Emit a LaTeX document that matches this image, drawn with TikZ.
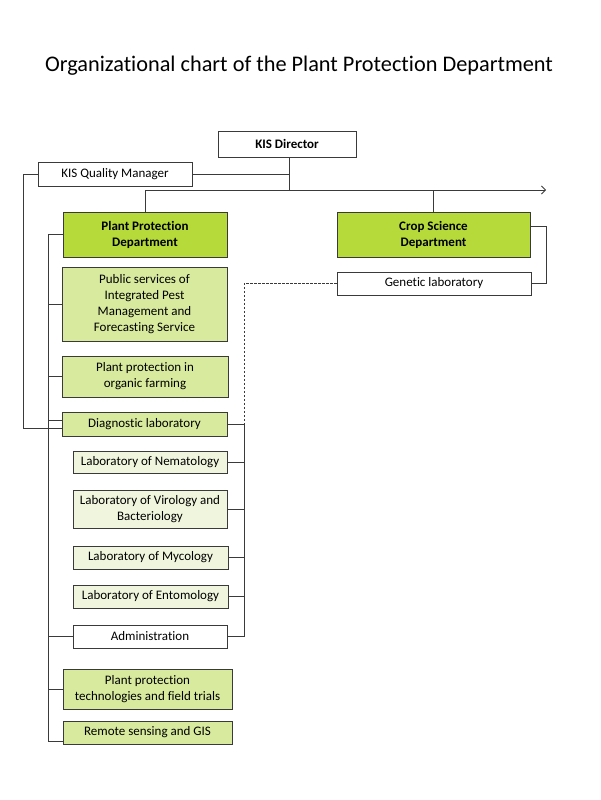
\documentclass[tikz,border=0pt]{standalone}
\usepackage{fontspec}
\setmainfont[Ligatures=NoCommon]{Carlito}
\usetikzlibrary{arrows.meta}
\definecolor{bright}{HTML}{B5DA3A}
\definecolor{light}{HTML}{D8EA9E}
\definecolor{pale}{HTML}{F0F6DE}
\definecolor{linec}{HTML}{3A3A3A}
\tikzset{
  box/.style={draw=linec, line width=0.9pt, inner sep=0pt, align=center,
    font=\fontsize{13}{16}\selectfont},
  boldbox/.style={box, fill=bright, font=\fontsize{13}{16}\selectfont\bfseries},
  lightbox/.style={box, fill=light},
  palebox/.style={box, fill=pale},
  whitebox/.style={box, fill=white},
  conn/.style={draw=linec, line width=0.8pt},
  dconn/.style={conn, dash pattern=on 2.5pt off 1.5pt}
}
\begin{document}
\begin{tikzpicture}[x=1pt,y=-1pt]
\useasboundingbox (0,0) rectangle (600,800);
\node[font=\fontsize{22.3}{26}\selectfont] (title) at (299,66) {Organizational chart of the Plant Protection Department};

\node[whitebox, minimum width=138pt, minimum height=26pt, font=\fontsize{13}{16}\selectfont\bfseries] (dir) at (287,144) {KIS Director};
\node[whitebox, minimum width=154pt, minimum height=24pt] (qm) at (115,174) {KIS Quality Manager};
\node[boldbox, minimum width=164pt, minimum height=45pt] (ppd) at (145,234.5) {Plant Protection\\Department};
\node[boldbox, minimum width=193pt, minimum height=45pt] (csd) at (433.5,234.5) {Crop Science\\Department};
\node[whitebox, minimum width=194pt, minimum height=23pt] (gen) at (434,283.5) {Genetic laboratory};
\node[lightbox, minimum width=165pt, minimum height=74pt] (pub) at (144.5,304) {Public services of\\Integrated Pest\\Management and\\Forecasting Service};
\node[lightbox, minimum width=166pt, minimum height=41pt] (org) at (145,376.5) {Plant protection in\\organic farming};
\node[lightbox, minimum width=165pt, minimum height=24pt] (diag) at (144.5,424) {Diagnostic laboratory};
\node[palebox, minimum width=154pt, minimum height=22pt] (nem) at (150,462) {Laboratory of Nematology};
\node[palebox, minimum width=154pt, minimum height=38pt] (vir) at (150,509) {Laboratory of Virology and\\Bacteriology};
\node[palebox, minimum width=155pt, minimum height=23pt] (myc) at (150.5,557.5) {Laboratory of Mycology};
\node[palebox, minimum width=155pt, minimum height=23pt] (ent) at (150.5,596.5) {Laboratory of Entomology};
\node[whitebox, minimum width=154pt, minimum height=23pt] (adm) at (150,636.5) {Administration};
\node[lightbox, minimum width=169pt, minimum height=40pt] (tech) at (147.5,689) {Plant protection\\technologies and field trials};
\node[lightbox, minimum width=169pt, minimum height=23pt] (rem) at (147.5,732.5) {Remote sensing and GIS};

% director and bus
\coordinate (busL) at (ppd.north |- 0,190);
\coordinate (busR) at (546,190);
\coordinate (busM) at (289,190);
\draw[conn] (dir.south -| busM) -- (busM);
\draw[conn] (qm.east) -- (qm.east -| busM);
\draw[conn, -{Straight Barb[length=4pt,width=8pt,line width=0.8pt]}] (busL) -- (busR);
\draw[conn] (busL) -- (ppd.north);
\draw[conn] (csd.north |- busL) -- (csd.north);

% crop science to genetic lab
\draw[conn] ([yshift=8pt]csd.east) -- ++(16,0) |- (gen.east);

% dashed link
\coordinate (rb) at (244,424);
\draw[dconn] (gen.west) -| (rb);

% right lab bus
\coordinate (rbe) at (244,636.5);
\draw[conn] (rb) -- (rbe);
\draw[conn] (diag.east) -- (rb);
\draw[conn] (nem.east) -- (nem.east -| rb);
\draw[conn] (vir.east) -- (vir.east -| rb);
\draw[conn] (myc.east) -- (myc.east -| rb);
\draw[conn] (ent.east) -- (ent.east -| rb);
\draw[conn] (adm.east) -- (rbe);

% left spine
\coordinate (spT) at (48,234.5);
\coordinate (spB) at (48,741);
\draw[conn] (ppd.west) -- (spT) -- (spB) -- ([yshift=-8.5pt]rem.west);
\draw[conn] (pub.west -| spT) -- (pub.west);
\draw[conn] (org.west -| spT) -- (org.west);
\draw[conn] ([yshift=4pt]diag.west -| spT) -- ([yshift=4pt]diag.west);
\draw[conn] (adm.west -| spT) -- (adm.west);
\draw[conn] (tech.west -| spT) -- (tech.west);

% quality manager link
\coordinate (qmL) at (23,174);
\draw[conn] (qm.west) -- (qmL) |- ([yshift=-4pt]diag.west);
\end{tikzpicture}
\end{document}
